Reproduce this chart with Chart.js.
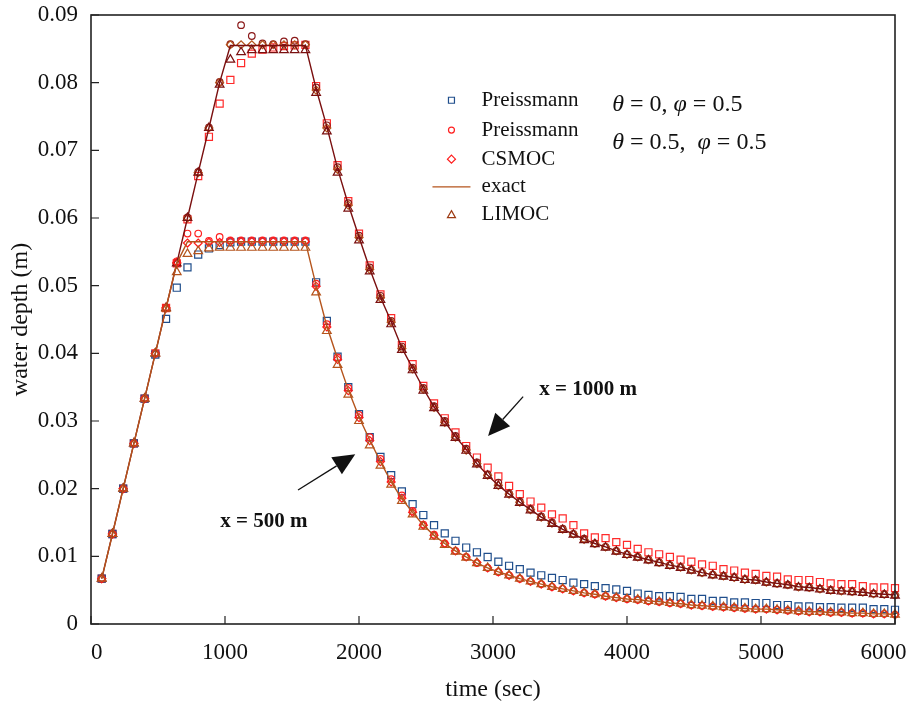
<!DOCTYPE html>
<html>
<head>
<meta charset="utf-8">
<script src="https://cdn.jsdelivr.net/npm/chart.js"></script>
<style>
  body { margin: 0; background: #fff; }
  #wrap { width: 913px; height: 701px; }
</style>
</head>
<body>
<div id="wrap"><canvas id="myChart" width="913" height="701"></canvas></div>
<script>
// sample times (sec)
const times = [80,160,240,320,400,480,560,640,720,800,880,960,1040,1120,1200,1280,1360,1440,1520,1600,
  1680,1760,1840,1920,2000,2080,2160,2240,2320,2400,2480,2560,2640,2720,2800,2880,2960,3040,3120,3200,
  3280,3360,3440,3520,3600,3680,3760,3840,3920,4000,4080,4160,4240,4320,4400,4480,4560,4640,4720,4800,
  4880,4960,5040,5120,5200,5280,5360,5440,5520,5600,5680,5760,5840,5920,6000];

// x = 500 m
const exact500 = [0.0067,0.0133,0.0200,0.0267,0.0333,0.0400,0.0467,0.0533,
  0.0565,0.0565,0.0565,0.0565,0.0565,0.0565,0.0565,0.0565,0.0565,0.0565,0.0565,0.0565,
  0.0500,0.0440,0.0392,0.0346,0.0306,0.0272,0.0240,0.0210,0.0185,0.0165,
  0.0146,0.0131,0.0119,0.0108,0.0099,0.0090,0.0083,0.0077,0.0072,0.0067,
  0.0063,0.0059,0.0055,0.0052,0.0049,0.0046,0.0044,0.0041,0.0039,0.0037,
  0.0036,0.0034,0.0033,0.0031,0.0030,0.0028,0.0027,0.0026,0.0025,0.0024,
  0.0023,0.0022,0.0022,0.0021,0.0020,0.0019,0.0018,0.0018,0.0017,0.0017,
  0.0016,0.0016,0.0015,0.0015,0.0014];
const preis0_500 = [0.0067,0.0133,0.0200,0.0267,0.0333,0.0398,0.0451,0.0497,
  0.0527,0.0546,0.0555,0.0560,0.0564,0.0565,0.0565,0.0565,0.0565,0.0565,0.0565,0.0565,
  0.0505,0.0448,0.0395,0.0350,0.0310,0.0276,0.0247,0.0220,0.0196,0.0177,
  0.0161,0.0146,0.0134,0.0123,0.0113,0.0106,0.0099,0.0092,0.0086,0.0081,
  0.0076,0.0072,0.0068,0.0065,0.0061,0.0059,0.0056,0.0053,0.0051,0.0049,
  0.0045,0.0043,0.0041,0.0041,0.0040,0.0037,0.0037,0.0034,0.0034,0.0032,
  0.0032,0.0031,0.0031,0.0028,0.0028,0.0026,0.0026,0.0025,0.0025,0.0024,
  0.0024,0.0024,0.0022,0.0022,0.0021];
const preis5_500 = [0.0067,0.0133,0.0200,0.0267,0.0333,0.0400,0.0467,0.0536,
  0.0577,0.0577,0.0566,0.0572,0.0567,0.0567,0.0567,0.0567,0.0567,0.0567,0.0567,0.0567,
  0.0503,0.0443,0.0394,0.0349,0.0309,0.0276,0.0244,0.0214,0.0190,0.0167,
  0.0147,0.0132,0.0119,0.0108,0.0099,0.0090,0.0083,0.0077,0.0072,0.0067,
  0.0063,0.0059,0.0055,0.0052,0.0049,0.0046,0.0044,0.0041,0.0039,0.0037,
  0.0036,0.0034,0.0033,0.0031,0.0030,0.0028,0.0027,0.0026,0.0025,0.0024,
  0.0023,0.0022,0.0022,0.0021,0.0020,0.0019,0.0018,0.0018,0.0017,0.0017,
  0.0016,0.0016,0.0015,0.0015,0.0014];
const csmoc500 = [0.0067,0.0133,0.0200,0.0267,0.0333,0.0400,0.0467,0.0534,
  0.0563,0.0563,0.0564,0.0564,0.0565,0.0565,0.0565,0.0565,0.0565,0.0565,0.0565,0.0565,
  0.0499,0.0439,0.0391,0.0345,0.0305,0.0271,0.0240,0.0210,0.0186,0.0165,
  0.0146,0.0131,0.0119,0.0108,0.0099,0.0091,0.0083,0.0077,0.0072,0.0067,
  0.0063,0.0059,0.0055,0.0052,0.0049,0.0046,0.0044,0.0041,0.0039,0.0037,
  0.0036,0.0034,0.0033,0.0031,0.0030,0.0028,0.0027,0.0026,0.0025,0.0024,
  0.0023,0.0022,0.0022,0.0021,0.0020,0.0019,0.0018,0.0018,0.0017,0.0017,
  0.0016,0.0016,0.0015,0.0015,0.0014];
const limoc500 = [0.0067,0.0133,0.0200,0.0267,0.0333,0.0400,0.0466,0.0520,
  0.0547,0.0551,0.0555,0.0556,0.0556,0.0556,0.0556,0.0556,0.0556,0.0556,0.0556,0.0556,
  0.0490,0.0433,0.0383,0.0339,0.0300,0.0264,0.0234,0.0206,0.0182,0.0162,
  0.0144,0.0129,0.0117,0.0107,0.0098,0.0090,0.0083,0.0077,0.0072,0.0067,
  0.0063,0.0059,0.0055,0.0052,0.0049,0.0046,0.0044,0.0041,0.0039,0.0037,
  0.0036,0.0034,0.0033,0.0031,0.0030,0.0028,0.0027,0.0026,0.0025,0.0024,
  0.0023,0.0022,0.0022,0.0021,0.0020,0.0019,0.0018,0.0018,0.0017,0.0017,
  0.0016,0.0016,0.0015,0.0015,0.0014];

// x = 1000 m
const exact1000 = [0.0067,0.0133,0.0200,0.0267,0.0333,0.0400,0.0467,0.0533,
  0.0600,0.0667,0.0733,0.0800,0.0855,0.0855,0.0855,0.0855,0.0855,0.0855,0.0855,0.0855,
  0.0791,0.0735,0.0673,0.0620,0.0572,0.0525,0.0483,0.0447,0.0408,0.0378,
  0.0348,0.0321,0.0299,0.0277,0.0258,0.0237,0.0220,0.0205,0.0192,0.0180,
  0.0169,0.0158,0.0149,0.0140,0.0133,0.0125,0.0119,0.0114,0.0108,0.0103,
  0.0099,0.0095,0.0091,0.0087,0.0084,0.0080,0.0076,0.0073,0.0071,0.0069,
  0.0066,0.0065,0.0062,0.0060,0.0058,0.0055,0.0054,0.0052,0.0050,0.0049,
  0.0048,0.0047,0.0045,0.0044,0.0043];
const preis0_1000 = [0.0067,0.0133,0.0200,0.0267,0.0333,0.0400,0.0467,0.0533,
  0.0598,0.0662,0.0720,0.0769,0.0804,0.0829,0.0843,0.0849,0.0852,0.0854,0.0855,0.0856,
  0.0795,0.0740,0.0678,0.0625,0.0577,0.0530,0.0487,0.0452,0.0412,0.0384,
  0.0352,0.0326,0.0304,0.0283,0.0263,0.0246,0.0231,0.0218,0.0204,0.0192,
  0.0181,0.0172,0.0162,0.0156,0.0146,0.0134,0.0128,0.0127,0.0121,0.0117,
  0.0111,0.0106,0.0103,0.0099,0.0095,0.0092,0.0088,0.0086,0.0081,0.0079,
  0.0076,0.0074,0.0071,0.0070,0.0066,0.0065,0.0065,0.0062,0.0060,0.0059,
  0.0059,0.0056,0.0054,0.0054,0.0053];
const preis5_1000 = [0.0067,0.0133,0.0200,0.0267,0.0333,0.0400,0.0467,0.0534,
  0.0601,0.0668,0.0734,0.0801,0.0857,0.0885,0.0869,0.0858,0.0857,0.0861,0.0862,0.0857,
  0.0793,0.0737,0.0675,0.0622,0.0574,0.0527,0.0485,0.0448,0.0410,0.0379,
  0.0349,0.0322,0.0300,0.0278,0.0259,0.0239,0.0221,0.0209,0.0193,0.0181,
  0.0170,0.0159,0.0150,0.0141,0.0133,0.0126,0.0119,0.0114,0.0108,0.0103,
  0.0099,0.0095,0.0091,0.0087,0.0084,0.0080,0.0076,0.0073,0.0071,0.0069,
  0.0066,0.0065,0.0062,0.0060,0.0058,0.0055,0.0054,0.0052,0.0050,0.0049,
  0.0048,0.0047,0.0045,0.0044,0.0043];
const csmoc1000 = [0.0067,0.0133,0.0200,0.0267,0.0333,0.0400,0.0467,0.0533,
  0.0600,0.0667,0.0733,0.0800,0.0856,0.0856,0.0856,0.0856,0.0856,0.0856,0.0856,0.0856,
  0.0789,0.0733,0.0672,0.0619,0.0571,0.0524,0.0482,0.0446,0.0407,0.0377,
  0.0347,0.0320,0.0298,0.0276,0.0257,0.0237,0.0220,0.0205,0.0192,0.0180,
  0.0169,0.0158,0.0149,0.0140,0.0133,0.0125,0.0119,0.0114,0.0108,0.0103,
  0.0099,0.0095,0.0091,0.0087,0.0084,0.0080,0.0076,0.0073,0.0071,0.0069,
  0.0066,0.0065,0.0062,0.0060,0.0058,0.0055,0.0054,0.0052,0.0050,0.0049,
  0.0048,0.0047,0.0045,0.0044,0.0043];
const limoc1000 = [0.0067,0.0133,0.0200,0.0267,0.0333,0.0400,0.0467,0.0533,
  0.0600,0.0667,0.0733,0.0797,0.0834,0.0845,0.0848,0.0848,0.0848,0.0848,0.0848,0.0848,
  0.0785,0.0728,0.0667,0.0614,0.0567,0.0521,0.0479,0.0443,0.0405,0.0375,
  0.0345,0.0319,0.0297,0.0275,0.0256,0.0236,0.0219,0.0204,0.0191,0.0179,
  0.0168,0.0157,0.0148,0.0139,0.0132,0.0124,0.0118,0.0113,0.0107,0.0102,
  0.0098,0.0094,0.0090,0.0086,0.0083,0.0079,0.0075,0.0072,0.0070,0.0068,
  0.0065,0.0064,0.0061,0.0059,0.0057,0.0054,0.0053,0.0051,0.0049,0.0048,
  0.0047,0.0046,0.0044,0.0043,0.0042];

const xTicks = [0, 1000, 2000, 3000, 4000, 5000, 6000];
const yTicks = [0, 0.01, 0.02, 0.03, 0.04, 0.05, 0.06, 0.07, 0.08, 0.09];
const legendLabels = ['Preissmann', 'Preissmann', 'CSMOC', 'exact', 'LIMOC'];

const serif = "'Liberation Serif', 'Times New Roman', serif";

function pts(values) {
    return times.map((t, i) => ({ x: t, y: values[i] }));
}

function markers(label, values, style, color, r) {
    return {
        label: label,
        data: pts(values),
        showLine: false,
        pointStyle: style,
        pointRadius: r,
        pointBorderColor: color,
        pointBackgroundColor: 'rgba(0,0,0,0)',
        pointBorderWidth: 1.2,
        borderColor: color,
        clip: false
    };
}

function exactLine(values, color) {
    return {
        label: 'exact',
        data: pts(values),
        borderColor: color,
        borderWidth: 1.4,
        pointRadius: 0,
        tension: 0,
        clip: false
    };
}

const data = {
    datasets: [
        exactLine(exact500, '#b5541c'),
        exactLine(exact1000, '#7a0f0f'),
        markers('LIMOC', limoc500, 'triangle', '#b5541c', 5),
        markers('CSMOC', csmoc500, 'rectRot', '#ff1a1a', 4),
        markers('Preissmann', preis5_500, 'circle', '#ff2020', 3.3),
        markers('Preissmann', preis0_500, 'rect', '#1f4e8c', 5),
        markers('LIMOC', limoc1000, 'triangle', '#7a1010', 5),
        markers('CSMOC', csmoc1000, 'rectRot', '#b5541c', 4),
        markers('Preissmann', preis5_1000, 'circle', '#8b1a1a', 3.3),
        markers('Preissmann', preis0_1000, 'rect', '#ff2a2a', 5)
    ]
};

// frame with inward tick marks
const frameTicks = {
    id: 'frameTicks',
    afterDraw(chart) {
        const { ctx, chartArea: a, scales } = chart;
        ctx.save();
        ctx.strokeStyle = '#222';
        ctx.lineWidth = 1.2;
        ctx.beginPath();
        xTicks.forEach(v => {
            const px = scales.x.getPixelForValue(v);
            ctx.moveTo(px, a.bottom);
            ctx.lineTo(px, a.bottom - 8);
        });
        yTicks.forEach(v => {
            const py = scales.y.getPixelForValue(v);
            ctx.moveTo(a.left, py);
            ctx.lineTo(a.left + 8, py);
        });
        ctx.stroke();
        ctx.lineWidth = 1.6;
        ctx.strokeRect(a.left, a.top, a.right - a.left, a.bottom - a.top);
        ctx.restore();
    }
};

function legendMarker(ctx, style, x, y, color) {
    ctx.save();
    ctx.strokeStyle = color;
    ctx.lineWidth = 1.2;
    ctx.beginPath();
    if (style === 'rect') ctx.rect(x - 3, y - 3, 6, 6);
    if (style === 'circle') ctx.arc(x, y, 3, 0, Math.PI * 2);
    if (style === 'diamond') { ctx.moveTo(x, y - 4); ctx.lineTo(x + 4, y); ctx.lineTo(x, y + 4); ctx.lineTo(x - 4, y); ctx.closePath(); }
    if (style === 'triangle') { ctx.moveTo(x, y - 4); ctx.lineTo(x + 4, y + 3); ctx.lineTo(x - 4, y + 3); ctx.closePath(); }
    if (style === 'line') { ctx.moveTo(x - 19, y); ctx.lineTo(x + 19, y); ctx.lineWidth = 1.4; }
    ctx.stroke();
    ctx.restore();
}

function arrow(ctx, x0, y0, x1, y1) {
    const dx = x1 - x0, dy = y1 - y0, len = Math.hypot(dx, dy);
    const ux = dx / len, uy = dy / len, hl = 22, hw = 10;
    const bx = x1 - ux * hl, by = y1 - uy * hl;
    ctx.beginPath();
    ctx.moveTo(x0, y0);
    ctx.lineTo(bx, by);
    ctx.lineWidth = 1.3;
    ctx.stroke();
    ctx.beginPath();
    ctx.moveTo(x1, y1);
    ctx.lineTo(bx - uy * hw, by + ux * hw);
    ctx.lineTo(bx + uy * hw, by - ux * hw);
    ctx.closePath();
    ctx.fill();
}

function mixedText(ctx, parts, x, y) {
    parts.forEach(p => {
        ctx.font = (p[1] ? 'italic ' : '') + '24px ' + serif;
        ctx.fillText(p[0], x, y);
        x += ctx.measureText(p[0]).width;
    });
}

const notes = {
    id: 'notes',
    afterDraw(chart) {
        const { ctx, scales } = chart;
        const X = v => scales.x.getPixelForValue(v);
        const Y = v => scales.y.getPixelForValue(v);
        ctx.save();
        ctx.fillStyle = '#111';
        ctx.strokeStyle = '#111';

        // legend
        const styles = ['rect', 'circle', 'diamond', 'line', 'triangle'];
        const colors = ['#1f4e8c', '#ff2020', '#ff1a1a', '#b5541c', '#9c3a12'];
        const rows = [0.0774, 0.0730, 0.0687, 0.0646, 0.0605];
        ctx.font = '21px ' + serif;
        ctx.textBaseline = 'middle';
        legendLabels.forEach((lab, i) => {
            legendMarker(ctx, styles[i], X(2690), Y(rows[i]), colors[i]);
            ctx.fillText(lab, X(2915), Y(rows[i]));
        });

        // scheme parameters
        ctx.textBaseline = 'alphabetic';
        mixedText(ctx, [['θ', 1], [' = 0, ', 0], ['φ', 1], [' = 0.5', 0]], X(3890), Y(0.0758));
        mixedText(ctx, [['θ', 1], [' = 0.5,  ', 0], ['φ', 1], [' = 0.5', 0]], X(3890), Y(0.0702));

        // section labels
        ctx.font = 'bold 21px ' + serif;
        ctx.textAlign = 'center';
        ctx.textBaseline = 'middle';
        ctx.fillText('x = 1000 m', X(3710), Y(0.0346));
        ctx.fillText('x = 500 m', X(1290), Y(0.0152));

        arrow(ctx, X(3225), Y(0.0336), X(2963), Y(0.0278));
        arrow(ctx, X(1545), Y(0.0198), X(1972), Y(0.0251));
        ctx.restore();
    }
};

const config = {
    type: 'line',
    data: data,
    options: {
        responsive: false,
        animation: false,
        layout: { padding: { left: 0, top: 15, right: 18, bottom: 0 } },
        plugins: {
            legend: { display: false },
            tooltip: { enabled: false }
        },
        scales: {
            x: {
                type: 'linear',
                min: 0,
                max: 6000,
                afterBuildTicks: s => { s.ticks = xTicks.map(v => ({ value: v })); },
                afterFit: s => { s.height = 77; s.paddingLeft = 0; s.paddingRight = 0; },
                grid: { display: false, drawTicks: false },
                border: { display: false },
                ticks: {
                    padding: 15,
                    color: '#111',
                    font: { family: serif, size: 23 },
                    // end labels nudged inward with a spacer, as in the source figure
                    callback: v => v === 0 ? '\u20020' : (v === 6000 ? '6000\u2003' : String(v))
                },
                title: {
                    display: true,
                    text: 'time (sec)',
                    color: '#111',
                    font: { family: serif, size: 24 },
                    padding: { top: 0, bottom: -3 }
                }
            },
            y: {
                min: 0,
                max: 0.09,
                afterBuildTicks: s => { s.ticks = yTicks.map(v => ({ value: v })); },
                afterFit: s => { s.width = 91; s.paddingTop = 0; s.paddingBottom = 0; },
                grid: { display: false, drawTicks: false },
                border: { display: false },
                ticks: {
                    padding: 13,
                    color: '#111',
                    font: { family: serif, size: 23 },
                    callback: v => v === 0 ? '0' : v.toFixed(2)
                },
                title: {
                    display: true,
                    text: 'water depth (m)',
                    color: '#111',
                    font: { family: serif, size: 24 },
                    padding: { top: 6, bottom: 0 }
                }
            }
        }
    },
    plugins: [frameTicks, notes]
};

const myChart = new Chart(document.getElementById('myChart'), config);
</script>
</body>
</html>
